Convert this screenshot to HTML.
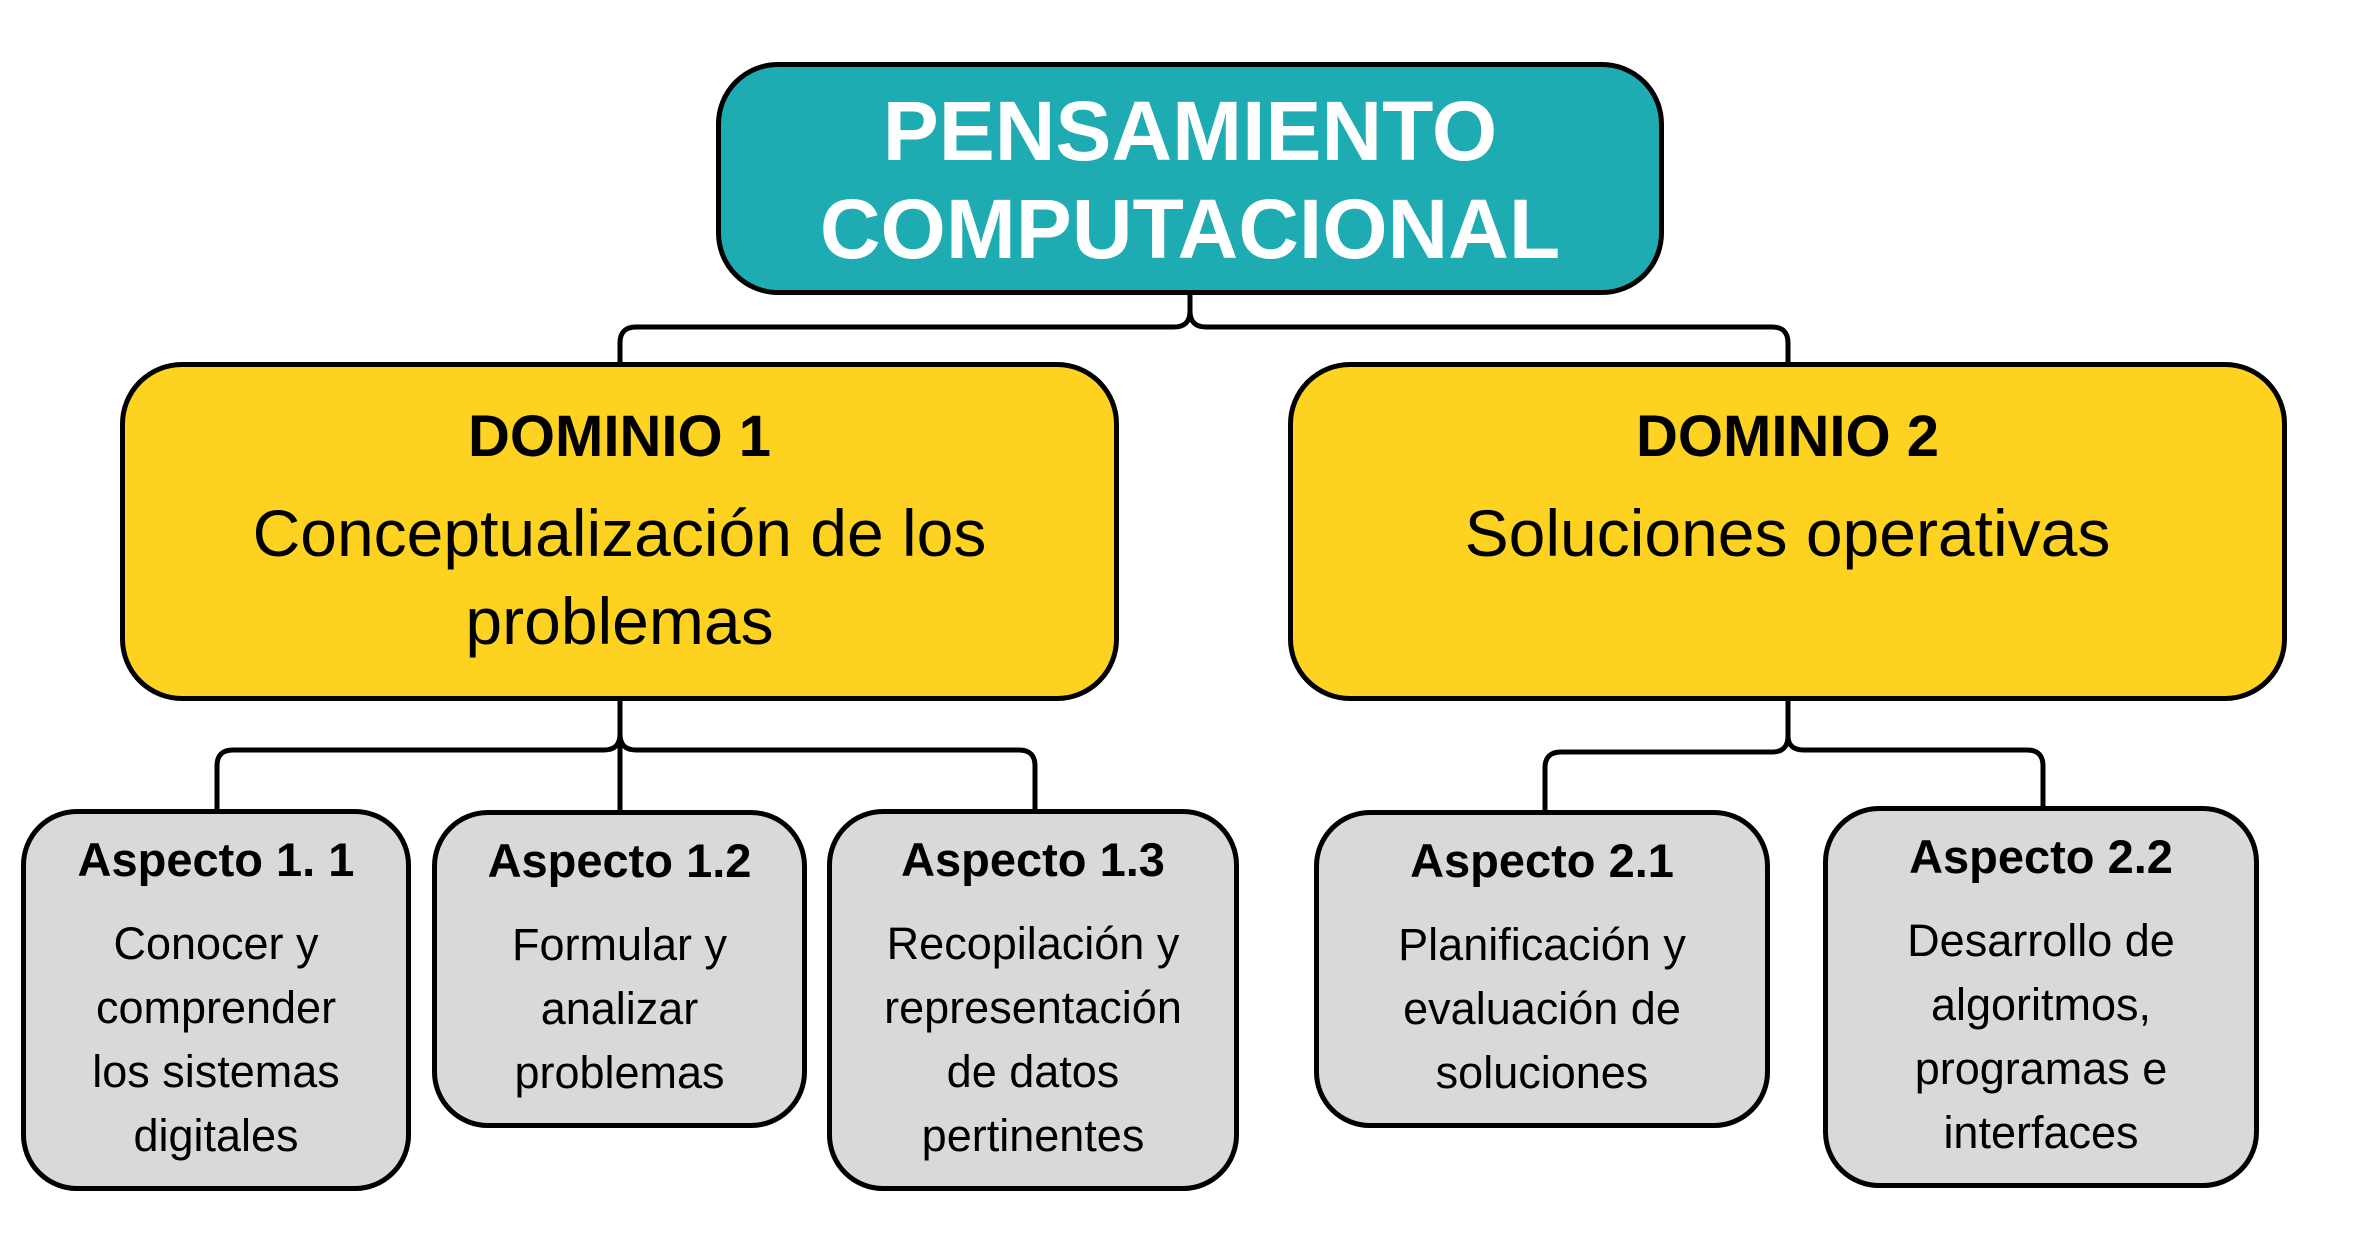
<!DOCTYPE html>
<html><head><meta charset="utf-8"><style>
html,body{margin:0;padding:0;background:#fff;}
body{width:2355px;height:1249px;position:relative;overflow:hidden;font-family:"Liberation Sans",sans-serif;}
.b{position:absolute;box-sizing:border-box;border:5px solid #000;text-align:center;}
.t{position:absolute;left:0;right:0;text-align:center;white-space:nowrap;}
.top{background:#1eabb1;border-radius:62px;color:#fff;font-weight:bold;}
.dom{background:#fdd220;border-radius:62px;color:#000;}
.asp{background:#d9d9d9;border-radius:56px;color:#000;}
.h{font-weight:bold;font-size:47px;line-height:56px;top:18px;}
.p{font-size:45px;line-height:64px;top:98px;}
</style></head><body>
<svg width="2355" height="1249" style="position:absolute;left:0;top:0" fill="none" stroke="#000" stroke-width="5">
<path d="M1190 294 V311 Q1190 327 1174 327 H636 Q620 327 620 343 V364"/>
<path d="M1190 311 Q1190 327 1206 327 H1772 Q1788 327 1788 343 V364"/>
<path d="M620 699 V734 Q620 750 604 750 H233 Q217 750 217 766 V811"/>
<path d="M620 734 Q620 750 636 750 H1019 Q1035 750 1035 766 V811"/>
<path d="M620 699 V812"/>
<path d="M1788 699 V736 Q1788 752 1772 752 H1561 Q1545 752 1545 768 V812"/>
<path d="M1788 736 Q1788 750 1804 750 H2027 Q2043 750 2043 766 V808"/>
</svg>
<div class="b top" style="left:716px;top:62px;width:948px;height:233px;">
<div class="t" style="top:15px;font-size:84px;line-height:98px;">PENSAMIENTO<br>COMPUTACIONAL</div></div>
<div class="b dom" style="left:120px;top:362px;width:999px;height:339px;">
<div class="t" style="top:35px;font-weight:bold;font-size:58px;line-height:70px;">DOMINIO 1</div>
<div class="t" style="top:122px;font-size:66px;line-height:88px;">Conceptualización de los<br>problemas</div></div>
<div class="b dom" style="left:1288px;top:362px;width:999px;height:339px;">
<div class="t" style="top:35px;font-weight:bold;font-size:58px;line-height:70px;">DOMINIO 2</div>
<div class="t" style="top:122px;font-size:66px;line-height:88px;">Soluciones operativas</div></div>
<div class="b asp" style="left:21px;top:809px;width:390px;height:382px;">
<div class="t h">Aspecto 1. 1</div><div class="t p">Conocer y<br>comprender<br>los sistemas<br>digitales</div></div>
<div class="b asp" style="left:432px;top:810px;width:375px;height:318px;">
<div class="t h">Aspecto 1.2</div><div class="t p">Formular y<br>analizar<br>problemas</div></div>
<div class="b asp" style="left:827px;top:809px;width:412px;height:382px;">
<div class="t h">Aspecto 1.3</div><div class="t p">Recopilación y<br>representación<br>de datos<br>pertinentes</div></div>
<div class="b asp" style="left:1314px;top:810px;width:456px;height:318px;">
<div class="t h">Aspecto 2.1</div><div class="t p">Planificación y<br>evaluación de<br>soluciones</div></div>
<div class="b asp" style="left:1823px;top:806px;width:436px;height:382px;">
<div class="t h">Aspecto 2.2</div><div class="t p">Desarrollo de<br>algoritmos,<br>programas e<br>interfaces</div></div>
</body></html>
